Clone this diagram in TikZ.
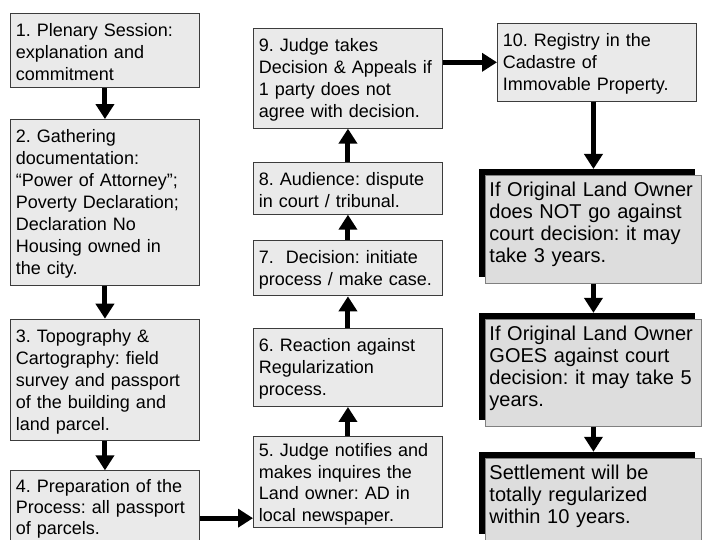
\documentclass[tikz,border=0pt]{standalone}
\usepackage{fontspec}
\setmainfont{Liberation Sans}
\frenchspacing
\usetikzlibrary{
    arrows.meta,
    positioning,
    shadows
}
\definecolor{StepFill}{RGB}{234,234,234}
\definecolor{StepEdge}{RGB}{60,60,60}
\definecolor{NoteFill}{RGB}{221,221,221}
\definecolor{NoteEdge}{RGB}{128,128,128}
\tikzset{
  stepbox/.style = {draw=StepEdge, fill=StepFill, line width=0.9pt,
                    text width=178pt, inner xsep=5.5pt, inner ysep=7pt,
                    text height=16pt, align=left,
                    font=\fontsize{18}{22}\selectfont},
  notebox/.style = {draw=NoteEdge, fill=NoteFill, line width=0.9pt,
                    text width=208pt, inner xsep=4pt, inner ysep=6pt,
                    text height=15pt, align=left,
                    font=\fontsize{20}{22}\selectfont,
                    drop shadow={shadow xshift=-6pt, shadow yshift=6pt,
                                 fill=black, opacity=1}},
  arr/.style     = {-{Triangle[width=18pt,length=15pt]}, line width=5pt, black}
}

\begin{document}
\begin{tikzpicture}[x=1pt, y=1pt]
\useasboundingbox (0,0) rectangle (702,-540);

% left column
\node[stepbox, anchor=north west] (b1) at (10,-13)
      {1. Plenary Session:\\explanation and\\commitment};
\node[stepbox, below=31pt of b1] (b2)
      {2. Gathering\\documentation:\\“Power of Attorney”;\\Poverty Declaration;\\Declaration No\\Housing owned in\\the city.};
\node[stepbox, below=33pt of b2] (b3)
      {3. Topography \&\\Cartography: field\\survey and passport\\of the building and\\land parcel.};
\node[stepbox, below=29pt of b3, text height=15pt,
      font=\fontsize{18}{21}\selectfont] (b4)
      {4. Preparation of the\\Process: all passport\\of parcels.};

% middle column
\node[stepbox, anchor=north west] (b9) at (253,-28)
      {9. Judge takes\\Decision \& Appeals if\\1 party does not\\agree with decision.};
\node[stepbox, below=33pt of b9] (b8)
      {8. Audience: dispute\\in court / tribunal.};
\node[stepbox, below=25pt of b8] (b7)
      {7.\ \ Decision: initiate\\process / make case.};
\node[stepbox, below=32pt of b7] (b6)
      {6. Reaction against\\Regularization\\process.};
\node[stepbox, below=29pt of b6, text height=13pt, text depth=64pt,
      font=\fontsize{18}{21.7}\selectfont] (b5)
      {5. Judge notifies and\\makes inquires the\\Land owner: AD in\\local newspaper.};

% right column
\node[stepbox, anchor=north west, text width=188pt] (b10) at (497,-23)
      {10. Registry in the\\Cadastre of\\Immovable Property.};
\node[notebox, anchor=north west, text depth=81pt] (r1) at (485,-175)
      {If Original Land Owner\\does NOT go against\\court decision: it may\\take 3 years.};
\node[notebox, below=35pt of r1, text depth=80pt] (r2)
      {If Original Land Owner\\GOES against court\\decision: it may take 5\\years.};
\node[notebox, below=31pt of r2, text depth=55pt] (r3)
      {Settlement will be\\totally regularized\\within 10 years.};

% connectors
\draw[arr] (b1) -- (b2);
\draw[arr] (b2) -- (b3);
\draw[arr] (b3) -- (b4);
\draw[arr] ([yshift=-10pt]b4.east) -- ([yshift=-10pt]b4.east -| b5.west);
\draw[arr] (b5) -- (b6);
\draw[arr] (b6) -- (b7);
\draw[arr] (b7) -- (b8);
\draw[arr] (b8) -- (b9);
\draw[arr] (b9.east |- b10.west) -- (b10.west);
\draw[arr] (b10.south -| r1.north) -- ([yshift=6pt]r1.north);
\draw[arr] (r1) -- ([yshift=6pt]r2.north);
\draw[arr] (r2) -- ([yshift=6pt]r3.north);
\end{tikzpicture}
\end{document}
